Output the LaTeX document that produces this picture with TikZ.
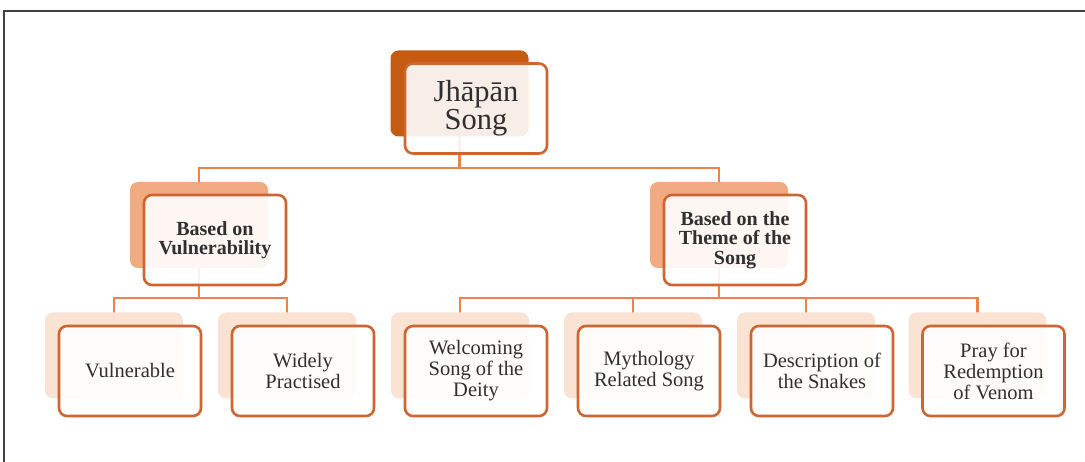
\documentclass[tikz,border=0pt]{standalone}
\usepackage{fontspec}
\setmainfont{Liberation Serif}
\pgfdeclarelayer{bg}
\pgfsetlayers{bg,main}
\definecolor{topback}{HTML}{C55A11}
\definecolor{midback}{HTML}{F2AA80}
\definecolor{leafback}{HTML}{FBE3D4}
\definecolor{edge}{HTML}{CD6630}
\definecolor{conn}{HTML}{E8844C}
\definecolor{txt}{HTML}{303030}
\tikzset{
  backbox/.style={rectangle, rounded corners=8pt, minimum width=138pt, minimum height=86pt, inner sep=0pt},
  frontbox/.style={rectangle, rounded corners=8pt, minimum width=142pt, minimum height=90pt, inner sep=0pt,
    draw=edge, line width=2.6pt, fill=white, fill opacity=0.9, text opacity=1, text=txt, align=center},
  topfont/.style={font=\fontsize{30.5}{28}\selectfont},
  midfont/.style={font=\fontsize{20}{19.5}\selectfont\bfseries},
  leaffont/.style={font=\fontsize{20.5}{21}\selectfont},
  connector/.style={draw=conn, line width=2.5pt},
  frame/.style={draw=black!75, line width=2pt}
}
\begin{document}
\begin{tikzpicture}[x=1pt,y=-1pt]
\useasboundingbox (0,0) rectangle (1085,462);
\begin{pgfonlayer}{bg}
\fill[white] (0,0) rectangle (1085,462);
\end{pgfonlayer}
\coordinate (fa) at (4,462);
\coordinate (fb) at (4,11);
\coordinate (fc) at (1085,11);
\draw[frame] (fa) -- (fb) -- (fc);
% back boxes
\node[backbox, fill=topback] (tb) at (459.5,93.5) {};
\node[backbox, fill=midback] (ab) at (199,225) {};
\node[backbox, fill=midback] (bb) at (719,225) {};
\node[backbox, fill=leafback] (l1b) at (114,355.5) {};
\node[backbox, fill=leafback] (l2b) at (287,355.5) {};
\node[backbox, fill=leafback] (l3b) at (460,355.5) {};
\node[backbox, fill=leafback] (l4b) at (633,355.5) {};
\node[backbox, fill=leafback] (l5b) at (806,355.5) {};
\node[backbox, fill=leafback] (l6b) at (977.5,355.5) {};
% front boxes
\node[frontbox, topfont] (tf) at (476,108.5) {Jhāpān\\Song};
\node[frontbox, midfont] (af) at (215,240) {Based on\\Vulnerability};
\node[frontbox, midfont] (bf) at (735,240) {Based on the\\Theme of the\\Song};
\node[frontbox, leaffont] (l1f) at (130,371) {Vulnerable};
\node[frontbox, leaffont] (l2f) at (303,371) {Widely\\Practised};
\node[frontbox, leaffont] (l3f) at (476,371) {Welcoming\\Song of the\\Deity};
\node[frontbox, leaffont] (l4f) at (649,371) {Mythology\\Related Song};
\node[frontbox, leaffont] (l5f) at (822,371) {Description of\\the Snakes};
\node[frontbox, leaffont] (l6f) at (993.5,371) {Pray for\\Redemption\\of Venom};
% connectors
\coordinate (j1) at (0,168);
\coordinate (j2) at (0,298);
\begin{pgfonlayer}{bg}
\draw[connector] (tb.center) -- (tb.center |- j1) -| (ab.center);
\draw[connector] (tb.center |- j1) -| (bb.center);
\draw[connector] (ab.center) -- (ab.center |- j2) -| (l1b.center);
\draw[connector] (ab.center |- j2) -| (l2b.center);
\draw[connector] (bb.center) -- (bb.center |- j2) -| (l3b.center);
\draw[connector] (bb.center |- j2) -| (l4b.center);
\draw[connector] (bb.center |- j2) -| (l5b.center);
\draw[connector] (bb.center |- j2) -| (l6b.center);
\end{pgfonlayer}
\end{tikzpicture}
\end{document}
